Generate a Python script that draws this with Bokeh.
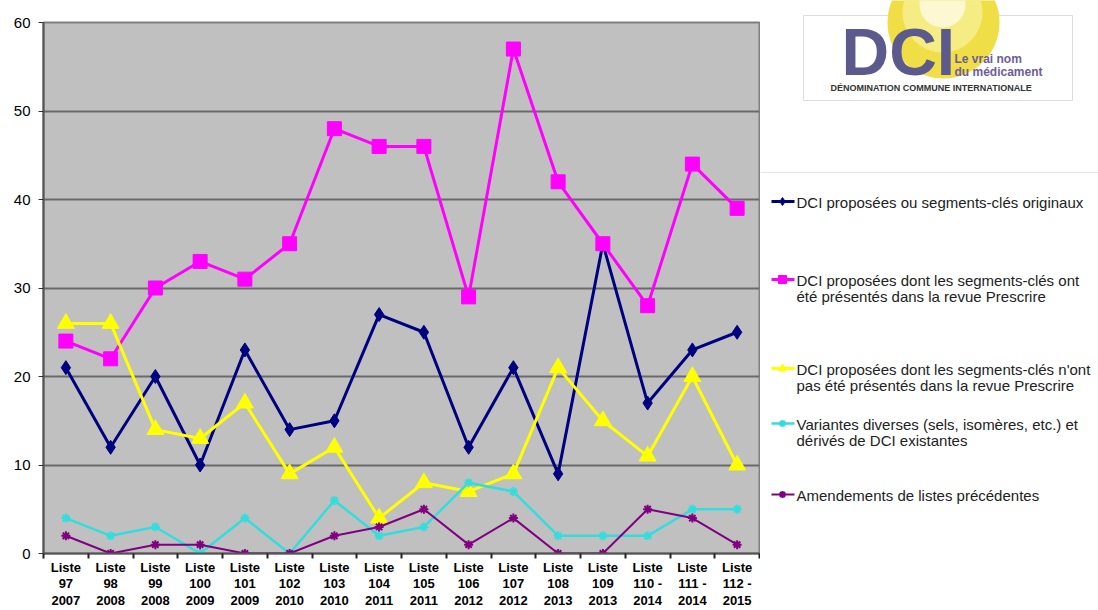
import numpy as np
from bokeh.plotting import figure
from bokeh.models import Range1d, FixedTicker
from bokeh.layouts import row
from bokeh.embed import file_html
from bokeh.resources import INLINE
from bokeh.core.properties import value

# ---------------- data ----------------
categories = [
    "Liste\n97\n2007", "Liste\n98\n2008", "Liste\n99\n2008", "Liste\n100\n2009",
    "Liste\n101\n2009", "Liste\n102\n2010", "Liste\n103\n2010", "Liste\n104\n2011",
    "Liste\n105\n2011", "Liste\n106\n2012", "Liste\n107\n2012", "Liste\n108\n2013",
    "Liste\n109\n2013", "Liste\n110 -\n2014", "Liste\n111 -\n2014", "Liste\n112 -\n2015",
]
dci_originaux = [21, 12, 20, 10, 23, 14, 15, 27, 25, 12, 21, 9, 35, 17, 23, 25]
dci_presentes = [24, 22, 30, 33, 31, 35, 48, 46, 46, 29, 57, 42, 35, 28, 44, 39]
dci_non_presentes = [26, 26, 14, 13, 17, 9, 12, 4, 8, 7, 9, 21, 15, 11, 20, 10]
variantes = [4, 2, 3, 0, 4, 0, 6, 2, 3, 8, 7, 2, 2, 2, 5, 5]
amendements = [2, 0, 1, 1, 0, 0, 2, 3, 5, 1, 4, 0, 0, 5, 4, 1]

series_names = [
    "DCI proposées ou segments-clés originaux",
    "DCI proposées dont les segments-clés ont\nété présentés dans la revue Prescrire",
    "DCI proposées dont les segments-clés n'ont\npas été présentés dans la revue Prescrire",
    "Variantes diverses (sels, isomères, etc.) et\ndérivés de DCI existantes",
    "Amendements de listes précédentes",
]
series_values = [dci_originaux, dci_presentes, dci_non_presentes, variantes, amendements]
y_ticks = [0, 10, 20, 30, 40, 50, 60]

# ---------------- styles ----------------
colors = ["#000080", "#ff00ff", "#ffff00", "#33dddd", "#800080"]
markers = ["diamond", "square", "triangle", "asterisk", "asterisk"]
marker_sizes = [14, 14, 17, 9, 9]
line_widths = [3, 3, 3, 2.5, 2]
FONT = "Liberation Sans"

n = len(categories)
xs = np.arange(n) + 0.5

p = figure(width=760, height=610, x_range=Range1d(0, n), y_range=Range1d(0, 60),
           output_backend="svg", toolbar_location=None,
           min_border_left=43, min_border_right=1, min_border_top=22, min_border_bottom=50)
p.frame_align = False
p.background_fill_color = "#c0c0c0"
p.border_fill_color = "white"
p.outline_line_color = "#808080"
p.outline_line_width = 2

# y axis
p.yaxis.ticker = FixedTicker(ticks=y_ticks)
p.yaxis.axis_line_color = "#555555"
p.yaxis.axis_line_width = 2
p.yaxis.major_tick_out = 5
p.yaxis.major_tick_in = 0
p.yaxis.major_tick_line_color = "#333333"
p.yaxis.minor_tick_line_color = None
p.yaxis.major_label_text_font = FONT
p.yaxis.major_label_text_font_size = "15px"
p.yaxis.major_label_text_color = "black"
p.yaxis.major_label_standoff = 8

# x axis: labels at centres, ticks between categories
p.xaxis.ticker = FixedTicker(ticks=list(xs), minor_ticks=list(range(n + 1)))
p.xaxis.major_label_overrides = {float(x): c for x, c in zip(xs, categories)}
p.xaxis.axis_line_color = "#555555"
p.xaxis.axis_line_width = 2
p.xaxis.major_tick_out = 0
p.xaxis.major_tick_in = 0
p.xaxis.minor_tick_out = 5
p.xaxis.minor_tick_in = 0
p.xaxis.minor_tick_line_color = "#222222"
p.xaxis.minor_tick_line_width = 2
p.xaxis.major_label_text_font = FONT
p.xaxis.major_label_text_font_style = "bold"
p.xaxis.major_label_text_font_size = "13px"
p.xaxis.major_label_text_color = "black"
p.xaxis.major_label_text_line_height = 1.1
p.xaxis.major_label_standoff = 1

p.xgrid.visible = False
p.ygrid.ticker = FixedTicker(ticks=y_ticks)
p.ygrid.grid_line_color = "#6a6a6a"
p.ygrid.grid_line_width = 2

for vals, col, mk, ms, lw in zip(series_values, colors, markers, marker_sizes, line_widths):
    p.line(xs, vals, line_color=col, line_width=lw)
    if mk == "asterisk":
        p.scatter(xs, vals, marker=mk, size=ms, line_color=col, line_width=2)
    else:
        p.scatter(xs, vals, marker=mk, size=ms, fill_color=col, line_color=col)

# ---------------- right panel: logo + legend ----------------
q = figure(width=338, height=610, x_range=Range1d(0, 338), y_range=Range1d(610, 0),
           output_backend="svg", toolbar_location=None, min_border=0)
q.frame_align = False
q.axis.visible = False
q.grid.visible = False
q.outline_line_color = None
q.background_fill_color = "white"
q.border_fill_color = "white"

# logo box
q.rect(x=[177.5], y=[57.5], width=[269], height=[85], fill_color="white",
       line_color="#dddddd", line_width=1)
q.ellipse(x=[183], y=[22], width=[112], height=[112], fill_color="#efde45", line_color=None)
q.ellipse(x=[182], y=[12], width=[80], height=[80], fill_color="#f6ec84", line_color=None)
q.ellipse(x=[182], y=[4], width=[46], height=[46], fill_color="#fdf8d2", line_color=None)
q.text(x=[81], y=[51], text=["DCI"], text_font=value(FONT), text_font_style="bold",
       text_font_size="66px", text_color="#5c5a8c", text_baseline="middle")
q.text(x=[194], y=[58], text=["Le vrai nom"], text_font=value(FONT), text_font_style="bold",
       text_font_size="12px", text_color="#6e5c9c", text_baseline="middle")
q.text(x=[194], y=[71], text=["du médicament"], text_font=value(FONT), text_font_style="bold",
       text_font_size="12px", text_color="#6e5c9c", text_baseline="middle")
q.text(x=[70], y=[87], text=["DÉNOMINATION COMMUNE INTERNATIONALE"], text_font=value(FONT),
       text_font_style="bold", text_font_size="9px", text_color="#333333", text_baseline="middle")

# faint separator
q.segment(x0=[0], y0=[172], x1=[338], y1=[172], line_color="#e4e4e4", line_width=1)

# legend
leg_y = [201, 279, 368, 423, 494]
for yy, name, col, mk, ms, lw in zip(leg_y, series_names, colors, markers, marker_sizes, line_widths):
    q.segment(x0=[11], y0=[yy], x1=[34], y1=[yy], line_color=col, line_width=lw)
    if mk == "asterisk":
        q.scatter(x=[22], y=[yy], marker=mk, size=7, line_color=col, line_width=2)
    else:
        q.scatter(x=[22], y=[yy], marker=mk, size=8, fill_color=col, line_color=col)
    q.text(x=[36], y=[yy - 8], text=[name], text_font=value(FONT), text_font_size="15px",
           text_color="#222222", text_baseline="top", text_line_height=0.97)

layout = row(p, q)
open("out.html", "w").write(file_html(layout, INLINE))
